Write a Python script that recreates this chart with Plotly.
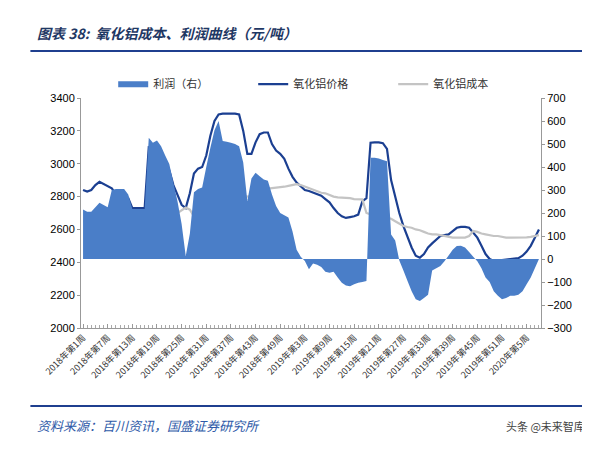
import plotly.graph_objects as go

weeks = [f"2018年第{i}周" for i in range(1, 53)] + [f"2019年第{i}周" for i in range(1, 53)] + [f"2020年第{i}周" for i in range(1, 9)]

price = [2840,2830,2840,2870,2890,2875,2860,2850,2815,2815,2815,2790,2730,2730,2730,2730,
         3100,3095,3090,3060,3020,2960,2870,2810,2750,2730,2820,2940,2970,2980,3050,3170,
         3260,3300,3305,3305,3305,3305,3300,3200,3060,3060,3130,3180,3190,3190,3120,3080,
         3060,3030,2970,2920,2885,2860,2840,2834,2825,2815,2805,2785,2765,2730,2700,2680,
         2670,2675,2680,2690,2770,2790,3128,3130,3130,3125,3090,2900,2800,2700,2620,2550,
         2490,2440,2428,2450,2490,2515,2540,2560,2565,2570,2590,2610,2615,2615,2610,2580,
         2550,2500,2450,2420,2408,2410,2412,2415,2420,2422,2425,2440,2465,2500,2550,2600]

cost = [2650,2645,2640,2638,2635,2635,2640,2620,2511,2510,2510,2512,2512,2515,2515,2570,
        2572,2560,2565,2575,2580,2600,2660,2700,2715,2733,2720,2680,2651,2660,2665,2670,
        2670,2682,2783,2785,2790,2800,2803,2805,2800,2805,2805,2844,2845,2848,2850,2855,
        2854,2860,2865,2870,2876,2870,2860,2850,2840,2830,2823,2820,2810,2800,2795,2793,
        2795,2790,2785,2785,2783,2700,2692,2690,2690,2680,2672,2665,2650,2635,2621,2615,
        2610,2600,2595,2585,2575,2570,2570,2565,2560,2555,2550,2550,2550,2550,2560,2590,
        2585,2575,2570,2565,2560,2560,2555,2550,2550,2550,2548,2550,2552,2555,2560,2565]

profit = [215,205,205,225,245,235,225,300,304,304,304,280,217,217,217,217,
          527,505,515,490,450,413,330,250,152,13,110,290,304,311,400,484,
          560,600,513,510,505,500,490,420,252,350,375,360,346,340,280,230,
          200,190,180,120,40,10,-9,-45,-20,-25,-35,-55,-60,-55,-80,-103,
          -115,-118,-110,-103,-100,-96,440,440,437,430,425,107,80,-6,-50,-96,
          -140,-175,-183,-170,-155,-50,-40,-30,-10,15,40,56,58,50,30,10,
          -10,-40,-80,-100,-140,-160,-175,-170,-160,-160,-155,-140,-110,-80,-40,0]

tick_idx = list(range(0, len(weeks), 6))
tick_text = [weeks[i] for i in tick_idx]
x = list(range(len(weeks)))

fig = go.Figure()
fig.add_trace(go.Scatter(x=x, y=profit, yaxis="y2", name="利润（右）", mode="none",
                         fill="tozeroy", fillcolor="#4A7EC8"))
fig.add_trace(go.Scatter(x=x, y=price, name="氧化铝价格", mode="lines",
                         line=dict(color="#1B3F91", width=2.2)))
fig.add_trace(go.Scatter(x=x, y=cost, name="氧化铝成本", mode="lines",
                         line=dict(color="#C4C4C4", width=2.2)))

axfont = dict(family="Liberation Sans, Arial", size=11, color="#000")
fig.update_layout(
    width=590, height=455, plot_bgcolor="white", paper_bgcolor="white",
    margin=dict(l=73, r=57, t=90, b=135),
    showlegend=True,
    legend=dict(orientation="h", x=0.07, y=1.06, xanchor="left", yanchor="middle",
                font=dict(family="Noto Sans CJK SC", size=11, color="#333"),
                entrywidth=95, entrywidthmode="pixels", traceorder="normal"),
    xaxis=dict(range=[-0.5, len(weeks) - 0.5], tickvals=tick_idx, ticktext=tick_text,
               tickangle=-45, showgrid=False, zeroline=False, showline=True,
               linecolor="#999", ticks="inside", ticklen=4, tickcolor="#999",
               minor=dict(dtick=1, ticks="inside", ticklen=3, tickcolor="#aaa"),
               tickfont=dict(family="Noto Sans CJK SC", size=9, color="#333")),
    yaxis=dict(range=[2000, 3400], dtick=200, showgrid=False, zeroline=False,
               showline=True, linecolor="#999", ticks="outside", ticklen=3,
               tickcolor="#999", tickfont=axfont),
    yaxis2=dict(range=[-300, 700], dtick=100, overlaying="y", side="right",
                showgrid=False, zeroline=False, showline=True, linecolor="#999",
                ticks="outside", ticklen=3, tickcolor="#999", tickfont=axfont),
)

fig.add_annotation(text="<i><b>图表 38:  氧化铝成本、利润曲线（元/吨）</b></i>", xref="paper", yref="paper",
                   x=-0.10, y=1.283, xanchor="left", yanchor="middle", showarrow=False,
                   font=dict(family="Noto Sans CJK SC", size=14, color="#1F3864"))
fig.add_shape(type="line", xref="paper", yref="paper", x0=-0.11, x1=1.12, y0=1.204, y1=1.204,
              line=dict(color="#1F3F8F", width=2))
fig.add_shape(type="line", xref="paper", yref="paper", x0=-0.11, x1=1.12, y0=-0.339, y1=-0.339,
              line=dict(color="#1F3F8F", width=2))
fig.add_annotation(text="<i>资料来源：百川资讯，国盛证券研究所</i>", xref="paper", yref="paper",
                   x=-0.10, y=-0.426, xanchor="left", yanchor="middle", showarrow=False,
                   font=dict(family="Noto Sans CJK SC", size=13, color="#2E5AA8"))
fig.add_annotation(text="头条 @未来智库", xref="paper", yref="paper",
                   x=1.10, y=-0.426, xanchor="right", yanchor="middle", showarrow=False,
                   font=dict(family="Noto Sans CJK SC", size=11, color="#444"))

fig.write_html("out.html")
